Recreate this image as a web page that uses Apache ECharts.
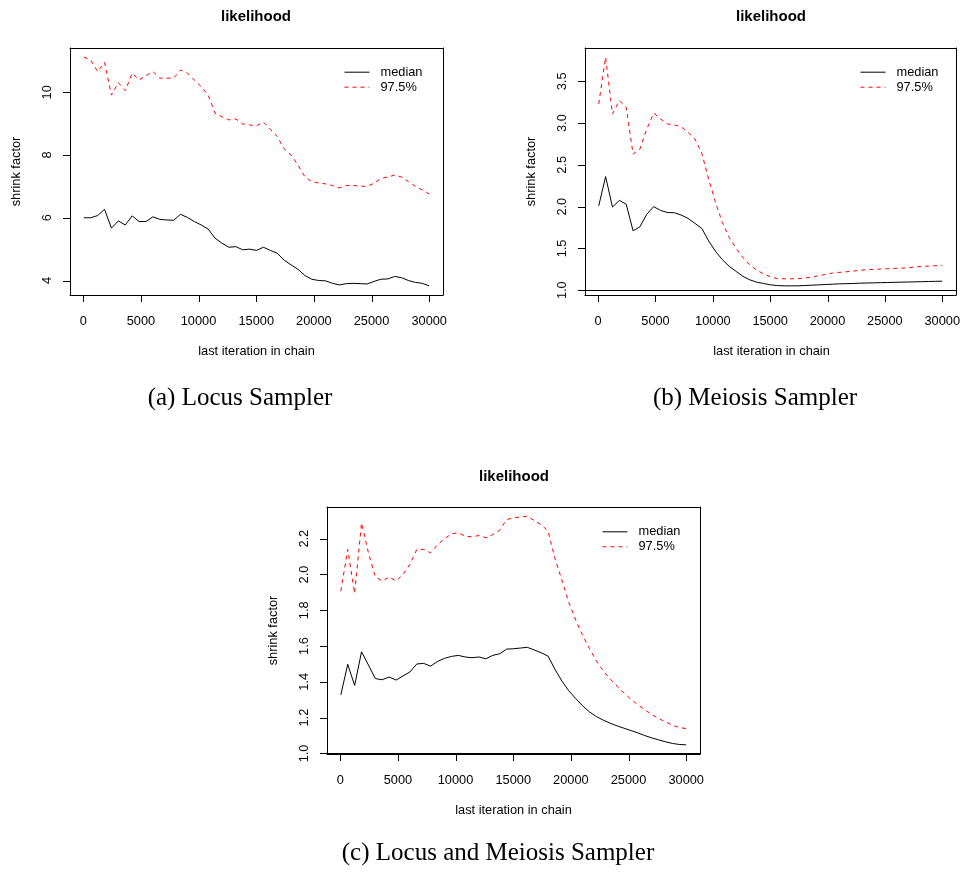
<!DOCTYPE html>
<html>
<head>
<meta charset="utf-8">
<script src="https://cdn.jsdelivr.net/npm/echarts@6/dist/echarts.min.js"></script>
<style>
html,body{margin:0;padding:0;background:#fff;}
#chart{width:963px;height:873px;}
</style>
</head>
<body>
<div id="chart"></div>
<script>
// last iteration in chain (x values)
const iterations = [51, 650, 1249, 1848, 2447, 3046, 3645, 4244, 4843, 5442, 6041, 6640, 7239, 7838, 8437, 9036, 9635, 10234, 10833, 11432, 12031, 12630, 13229, 13828, 14427, 15026, 15625, 16224, 16823, 17422, 18021, 18620, 19219, 19818, 20417, 21016, 21615, 22214, 22813, 23412, 24011, 24610, 25209, 25808, 26407, 27006, 27605, 28204, 28803, 29402, 30000];

// (a) Locus Sampler
const locusMedian = [6.0, 6.0, 6.07, 6.27, 5.67, 5.9, 5.77, 6.06, 5.88, 5.88, 6.03, 5.95, 5.93, 5.92, 6.11, 6.01, 5.88, 5.77, 5.64, 5.35, 5.19, 5.06, 5.08, 4.98, 5.0, 4.96, 5.06, 4.96, 4.87, 4.65, 4.5, 4.36, 4.16, 4.04, 4.0, 3.99, 3.91, 3.86, 3.9, 3.91, 3.9, 3.89, 3.97, 4.04, 4.05, 4.13, 4.09, 4.0, 3.94, 3.91, 3.83];
const locus975 = [11.12, 11.03, 10.66, 10.95, 9.91, 10.31, 10.05, 10.61, 10.39, 10.53, 10.66, 10.45, 10.45, 10.45, 10.71, 10.61, 10.39, 10.18, 9.91, 9.33, 9.22, 9.12, 9.15, 8.99, 8.96, 8.93, 9.05, 8.82, 8.59, 8.2, 8.0, 7.68, 7.31, 7.15, 7.11, 7.08, 7.03, 6.95, 7.03, 7.03, 7.01, 7.0, 7.1, 7.25, 7.3, 7.36, 7.3, 7.15, 7.0, 6.89, 6.76];

// (b) Meiosis Sampler
const meiosisMedian = [2.01, 2.36, 1.995, 2.075, 2.03, 1.71, 1.76, 1.91, 2.0, 1.955, 1.93, 1.927, 1.9, 1.86, 1.8, 1.74, 1.59, 1.465, 1.365, 1.285, 1.225, 1.165, 1.124, 1.096, 1.08, 1.064, 1.056, 1.052, 1.052, 1.052, 1.056, 1.06, 1.064, 1.068, 1.072, 1.076, 1.078, 1.08, 1.084, 1.086, 1.088, 1.09, 1.092, 1.094, 1.096, 1.098, 1.1, 1.102, 1.104, 1.106, 1.108];
const meiosis975 = [3.23, 3.79, 3.11, 3.27, 3.19, 2.63, 2.69, 2.93, 3.12, 3.05, 2.99, 2.98, 2.955, 2.89, 2.81, 2.64, 2.33, 2.05, 1.81, 1.63, 1.5, 1.39, 1.3, 1.24, 1.195, 1.16, 1.14, 1.136, 1.136, 1.14, 1.145, 1.157, 1.173, 1.189, 1.205, 1.213, 1.22, 1.229, 1.237, 1.245, 1.249, 1.253, 1.257, 1.261, 1.263, 1.269, 1.277, 1.285, 1.289, 1.293, 1.297];

// (c) Locus and Meiosis Sampler
const bothMedian = [1.327, 1.498, 1.38, 1.568, 1.494, 1.418, 1.412, 1.427, 1.41, 1.433, 1.455, 1.5, 1.503, 1.488, 1.514, 1.531, 1.542, 1.548, 1.539, 1.535, 1.539, 1.529, 1.548, 1.557, 1.583, 1.585, 1.589, 1.593, 1.578, 1.563, 1.544, 1.47, 1.405, 1.35, 1.307, 1.266, 1.232, 1.206, 1.186, 1.169, 1.154, 1.141, 1.128, 1.115, 1.1, 1.087, 1.076, 1.065, 1.056, 1.05, 1.048];
const both975 = [1.907, 2.14, 1.894, 2.288, 2.121, 1.987, 1.963, 1.987, 1.963, 2.0, 2.056, 2.14, 2.14, 2.121, 2.167, 2.199, 2.227, 2.233, 2.214, 2.21, 2.218, 2.205, 2.223, 2.247, 2.307, 2.316, 2.322, 2.326, 2.301, 2.279, 2.242, 2.09, 1.97, 1.845, 1.746, 1.66, 1.586, 1.517, 1.461, 1.415, 1.377, 1.337, 1.303, 1.272, 1.244, 1.218, 1.195, 1.177, 1.158, 1.145, 1.139];

// tick labels
const xTicks = [0, 5000, 10000, 15000, 20000, 25000, 30000];
const yTicksA = [4, 6, 8, 10];
const yTicksB = [1.0, 1.5, 2.0, 2.5, 3.0, 3.5];
const yTicksC = [1.0, 1.2, 1.4, 1.6, 1.8, 2.0, 2.2];

const titles = ['likelihood', 'likelihood', 'likelihood'];
const captions = ['(a) Locus Sampler', '(b) Meiosis Sampler', '(c) Locus and Meiosis Sampler'];
const seriesNames = ['median', '97.5%'];
const xName = 'last iteration in chain';
const yName = 'shrink factor';

const SANS = '"Liberation Sans", Arial, Helvetica, sans-serif';
const SERIF = '"Liberation Serif", "Times New Roman", serif';
const FS = 12.8;
const TICK = 7;

function pad(arrs) {
  let mn = Infinity, mx = -Infinity;
  arrs.forEach(a => a.forEach(v => { if (v < mn) mn = v; if (v > mx) mx = v; }));
  const r = mx - mn;
  return [mn - 0.04 * r, mx + 0.04 * r];
}
const xr = pad([iterations]);

const panels = [
  {grid: {left: 70, top: 48, width: 373, height: 247}, med: locusMedian, q: locus975, ticks: yTicksA, dec: 0, hline: false,
   legend: {left: 344, top: 65.7}, title: [256, 16], caption: [240, 398]},
  {grid: {left: 585, top: 48, width: 373, height: 247}, med: meiosisMedian, q: meiosis975, ticks: yTicksB, dec: 1, hline: true,
   legend: {left: 860, top: 65.7}, title: [771, 16], caption: [755, 398]},
  {grid: {left: 327, top: 507, width: 373, height: 247}, med: bothMedian, q: both975, ticks: yTicksC, dec: 1, hline: true,
   legend: {left: 602, top: 525.3}, title: [514, 476], caption: [498, 853]}
];

const option = {
  animation: false,
  backgroundColor: '#fff',
  grid: [], xAxis: [], yAxis: [], series: [], legend: [], graphic: []
};

const line1 = () => ({color: '#000', width: 1});

panels.forEach((p, k) => {
  const g = p.grid;
  const yr = pad([p.med, p.q]);

  const gi = option.grid.length;
  option.grid.push(Object.assign({show: false, containLabel: false}, g));
  const xi = option.xAxis.length;
  option.xAxis.push({
    type: 'value', gridIndex: gi, min: xr[0], max: xr[1], position: 'bottom',
    axisLine: {show: true, onZero: false, lineStyle: line1()},
    axisTick: {show: false},
    axisLabel: {show: true, margin: 20, fontFamily: SANS, fontSize: FS, color: '#000', customValues: xTicks,
      formatter: v => String(Math.round(v))},
    splitLine: {show: false}
  });
  option.xAxis.push({
    type: 'value', gridIndex: gi, min: xr[0], max: xr[1], position: 'top',
    axisLine: {show: true, onZero: false, lineStyle: line1()},
    axisTick: {show: false}, axisLabel: {show: false}, splitLine: {show: false}
  });
  const yi = option.yAxis.length;
  option.yAxis.push({
    type: 'value', gridIndex: gi, min: yr[0], max: yr[1], position: 'left',
    axisLine: {show: true, onZero: false, lineStyle: line1()},
    axisTick: {show: false},
    axisLabel: {show: true, rotate: 90, margin: 16, fontFamily: SANS, fontSize: FS, color: '#000', customValues: p.ticks,
      formatter: v => Number(v).toFixed(p.dec)},
    splitLine: {show: false}
  });
  option.yAxis.push({
    type: 'value', gridIndex: gi, min: yr[0], max: yr[1], position: 'right',
    axisLine: {show: true, onZero: false, lineStyle: line1()},
    axisTick: {show: false}, axisLabel: {show: false}, splitLine: {show: false}
  });

  // outward tick marks, placed through the axes' own scales
  option.series.push({
    type: 'custom', name: 'xticks' + k, xAxisIndex: xi, yAxisIndex: yi, silent: true, clip: false, z: 5,
    data: xTicks.map(v => [v, yr[0]]),
    encode: {x: 0, y: 1},
    renderItem: (params, api) => {
      const pt = api.coord([api.value(0), api.value(1)]);
      const x = Math.round(pt[0]) + 0.5, y = Math.round(pt[1]);
      return {type: 'line', shape: {x1: x, y1: y, x2: x, y2: y + TICK}, style: {stroke: '#000', lineWidth: 1}};
    }
  });
  option.series.push({
    type: 'custom', name: 'yticks' + k, xAxisIndex: xi, yAxisIndex: yi, silent: true, clip: false, z: 5,
    data: p.ticks.map(v => [xr[0], v]),
    encode: {x: 0, y: 1},
    renderItem: (params, api) => {
      const pt = api.coord([api.value(0), api.value(1)]);
      const x = Math.round(pt[0]), y = Math.round(pt[1]) + 0.5;
      return {type: 'line', shape: {x1: x - TICK, y1: y, x2: x, y2: y}, style: {stroke: '#000', lineWidth: 1}};
    }
  });

  const medSeries = {
    name: seriesNames[0], type: 'line', xAxisIndex: xi, yAxisIndex: yi,
    data: iterations.map((x, i) => [x, p.med[i]]),
    symbol: 'none', showSymbol: false, smooth: false, silent: true,
    lineStyle: {color: '#000', width: 1, type: 'solid'}, itemStyle: {color: '#000'},
    z: 3
  };
  if (p.hline) {
    medSeries.markLine = {
      silent: true, symbol: 'none', animation: false,
      label: {show: false},
      lineStyle: {color: '#000', width: 1, type: 'solid'},
      data: [{yAxis: 1}]
    };
  }
  option.series.push(medSeries);
  option.series.push({
    name: seriesNames[1], type: 'line', xAxisIndex: xi, yAxisIndex: yi,
    data: iterations.map((x, i) => [x, p.q[i]]),
    symbol: 'none', showSymbol: false, smooth: false, silent: true,
    lineStyle: {color: '#ff0000', width: 1, type: [4, 4]}, itemStyle: {color: '#ff0000'},
    z: 3
  });
  option.legend.push({
    data: seriesNames, orient: 'vertical', left: p.legend.left, top: p.legend.top, padding: 0,
    itemWidth: 25, itemHeight: 14, itemGap: 2, selectedMode: false,
    itemStyle: {color: 'transparent', borderColor: 'transparent', borderWidth: 0, opacity: 0},
    lineStyle: {width: 1},
    textStyle: {fontFamily: SANS, fontSize: FS, color: '#000', padding: [0, 0, 0, 6]}
  });

  option.graphic.push({
    type: 'text', x: g.left + g.width / 2, y: g.top + g.height + 56, silent: true,
    style: {text: xName, fontFamily: SANS, fontSize: FS, fill: '#000', textAlign: 'center', textVerticalAlign: 'middle'}
  });
  option.graphic.push({
    type: 'text', x: g.left - 54, y: g.top + g.height / 2, rotation: Math.PI / 2, silent: true,
    style: {text: yName, fontFamily: SANS, fontSize: FS, fill: '#000', textAlign: 'center', textVerticalAlign: 'middle'}
  });
  option.graphic.push({
    type: 'text', x: p.title[0], y: p.title[1] + 1, silent: true,
    style: {text: titles[k], fontFamily: SANS, fontSize: 15, fontWeight: 'bold', fill: '#000', textAlign: 'center', textVerticalAlign: 'middle'}
  });
  option.graphic.push({
    type: 'text', x: p.caption[0], y: p.caption[1], silent: true,
    style: {text: captions[k], fontFamily: SERIF, fontSize: 25, fill: '#000', textAlign: 'center', textVerticalAlign: 'middle'}
  });
});

const chart = echarts.init(document.getElementById('chart'), null, {renderer: 'canvas'});
chart.setOption(option);
</script>
</body>
</html>
